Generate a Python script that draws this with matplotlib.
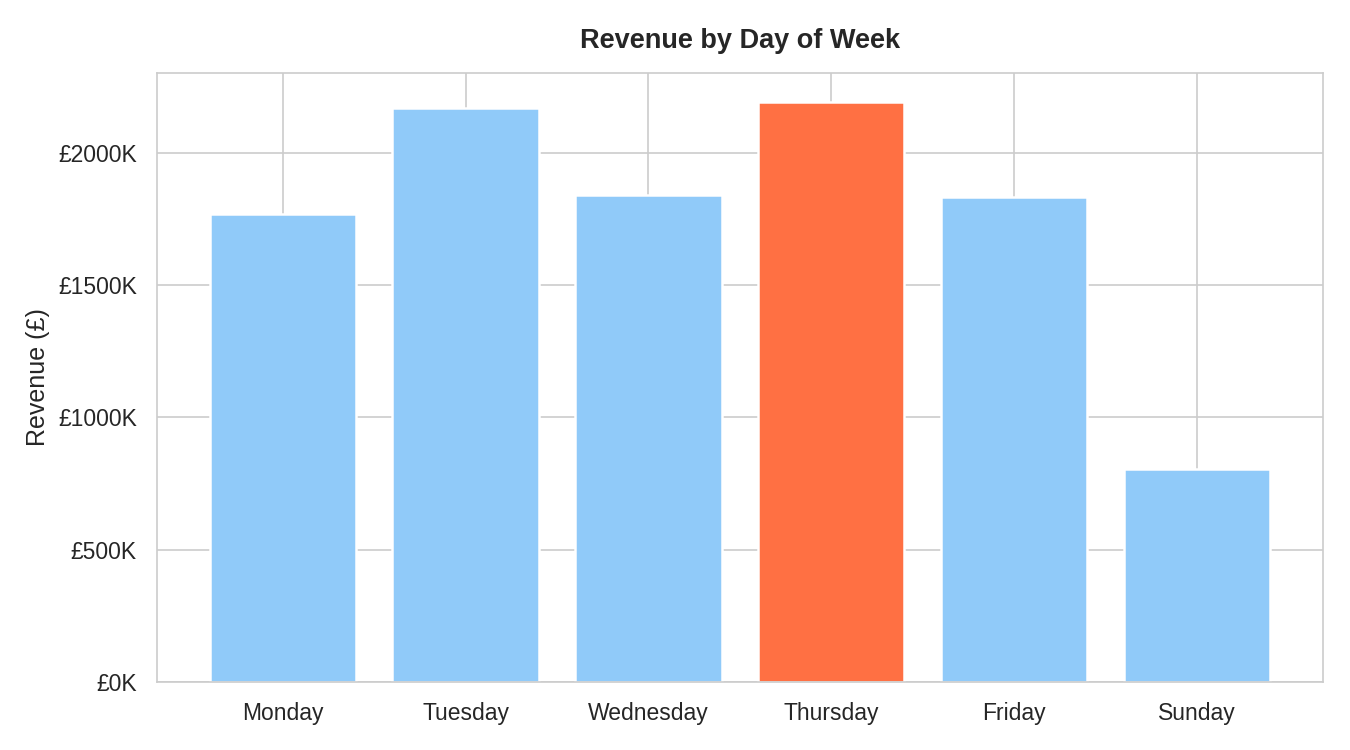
import matplotlib.pyplot as plt
import seaborn as sns
from matplotlib.ticker import FuncFormatter

# revenue per day, in pounds
days = ['Monday', 'Tuesday', 'Wednesday', 'Thursday', 'Friday', 'Sunday']
revenue = [1769000, 2170000, 1841000, 2193000, 1833000, 803000]

sns.set_style('whitegrid')
plt.rcParams['font.family'] = ['Liberation Sans', 'DejaVu Sans']

best = revenue.index(max(revenue))
colors = ['#FF7043' if i == best else '#90CAF9' for i in range(len(days))]

fig, ax = plt.subplots(figsize=(9, 5), dpi=150)
fig.subplots_adjust(left=0.116, right=0.98, top=0.903, bottom=0.091)

ax.bar(days, revenue, color=colors, width=0.8, edgecolor='white', linewidth=1.2)

ax.yaxis.set_major_formatter(FuncFormatter(lambda v, p: f'£{v / 1000:.0f}K'))
ax.set_ylabel('Revenue (£)', fontsize=12, labelpad=4)
ax.set_title('Revenue by Day of Week', fontsize=13, fontweight='bold', pad=12)
ax.tick_params(labelsize=11)
ax.tick_params(axis='x', pad=6)
ax.tick_params(axis='y', pad=6)
ax.set_axisbelow(True)

plt.savefig('out.png', dpi=150)
plt.close()
